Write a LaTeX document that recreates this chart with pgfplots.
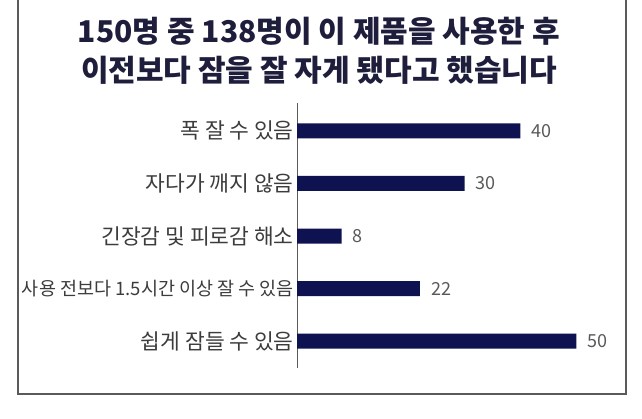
\documentclass[border=0pt]{standalone}
\usepackage{fontspec}
\usepackage{pgfplots}
\pgfplotsset{compat=1.18}
\setmainfont{Noto Sans CJK KR}
\newfontfamily\titlefont{Noto Sans CJK KR}
\newfontfamily\labelfont{Noto Sans CJK KR}

\definecolor{barnavy}{HTML}{0E1250}
\definecolor{titleink}{HTML}{1E1E3C}
\definecolor{labelink}{HTML}{3C3C3C}
\definecolor{framegray}{HTML}{5A5A5A}

\begin{document}
\begin{tikzpicture}[x=1pt,y=1pt]
  \path[use as bounding box] (0,0) rectangle (642,-418);
  % frame round the chart (top edge is cut off)
  \draw[framegray, line width=1.2pt] (18,0) -- (18,-394) -- (626,-394) -- (626,0);
  \node[titleink, font=\titlefont\bfseries\fontsize{30}{39}\selectfont, align=center]
    at (319,-51) {150명 중 138명이 이 제품을 사용한 후\\이전보다 잠을 잘 자게 됐다고 했습니다};
  \begin{axis}[
    at={(297pt,-103pt)}, anchor=north west,
    scale only axis,
    width=324pt, height=265pt,
    xmin=0, xmax=58,
    ymin=-0.53, ymax=4.51,
    y dir=reverse,
    xbar,
    bar width=15pt,
    axis x line=none,
    axis y line*=left,
    axis line style={-, draw=framegray, line width=1pt},
    ytick={0,1,2,3,4},
    yticklabels={폭 잘 수 있음, 자다가 깨지 않음, 긴장감 및 피로감 해소,
      {\fontsize{18.5}{19}\selectfont 사용 전보다 1.5시간 이상 잘 수 있음}, 쉽게 잠들 수 있음},
    major tick length=0pt,
    ytick style={draw=none},
    yticklabel style={font=\labelfont\fontsize{21.5}{22}\selectfont, text=labelink,
      inner sep=0pt, xshift=-3pt},
    /pgf/number format/assume math mode=true,
    nodes near coords,
    nodes near coords style={font=\labelfont\fontsize{18}{18}\selectfont, text=labelink!85,
      anchor=west, inner sep=0pt, xshift=11pt},
    clip=false,
  ]
    \addplot[draw=none, fill=barnavy] coordinates {
      (40,0) (30,1) (8,2) (22,3) (50,4)
    };
  \end{axis}
\end{tikzpicture}
\end{document}
